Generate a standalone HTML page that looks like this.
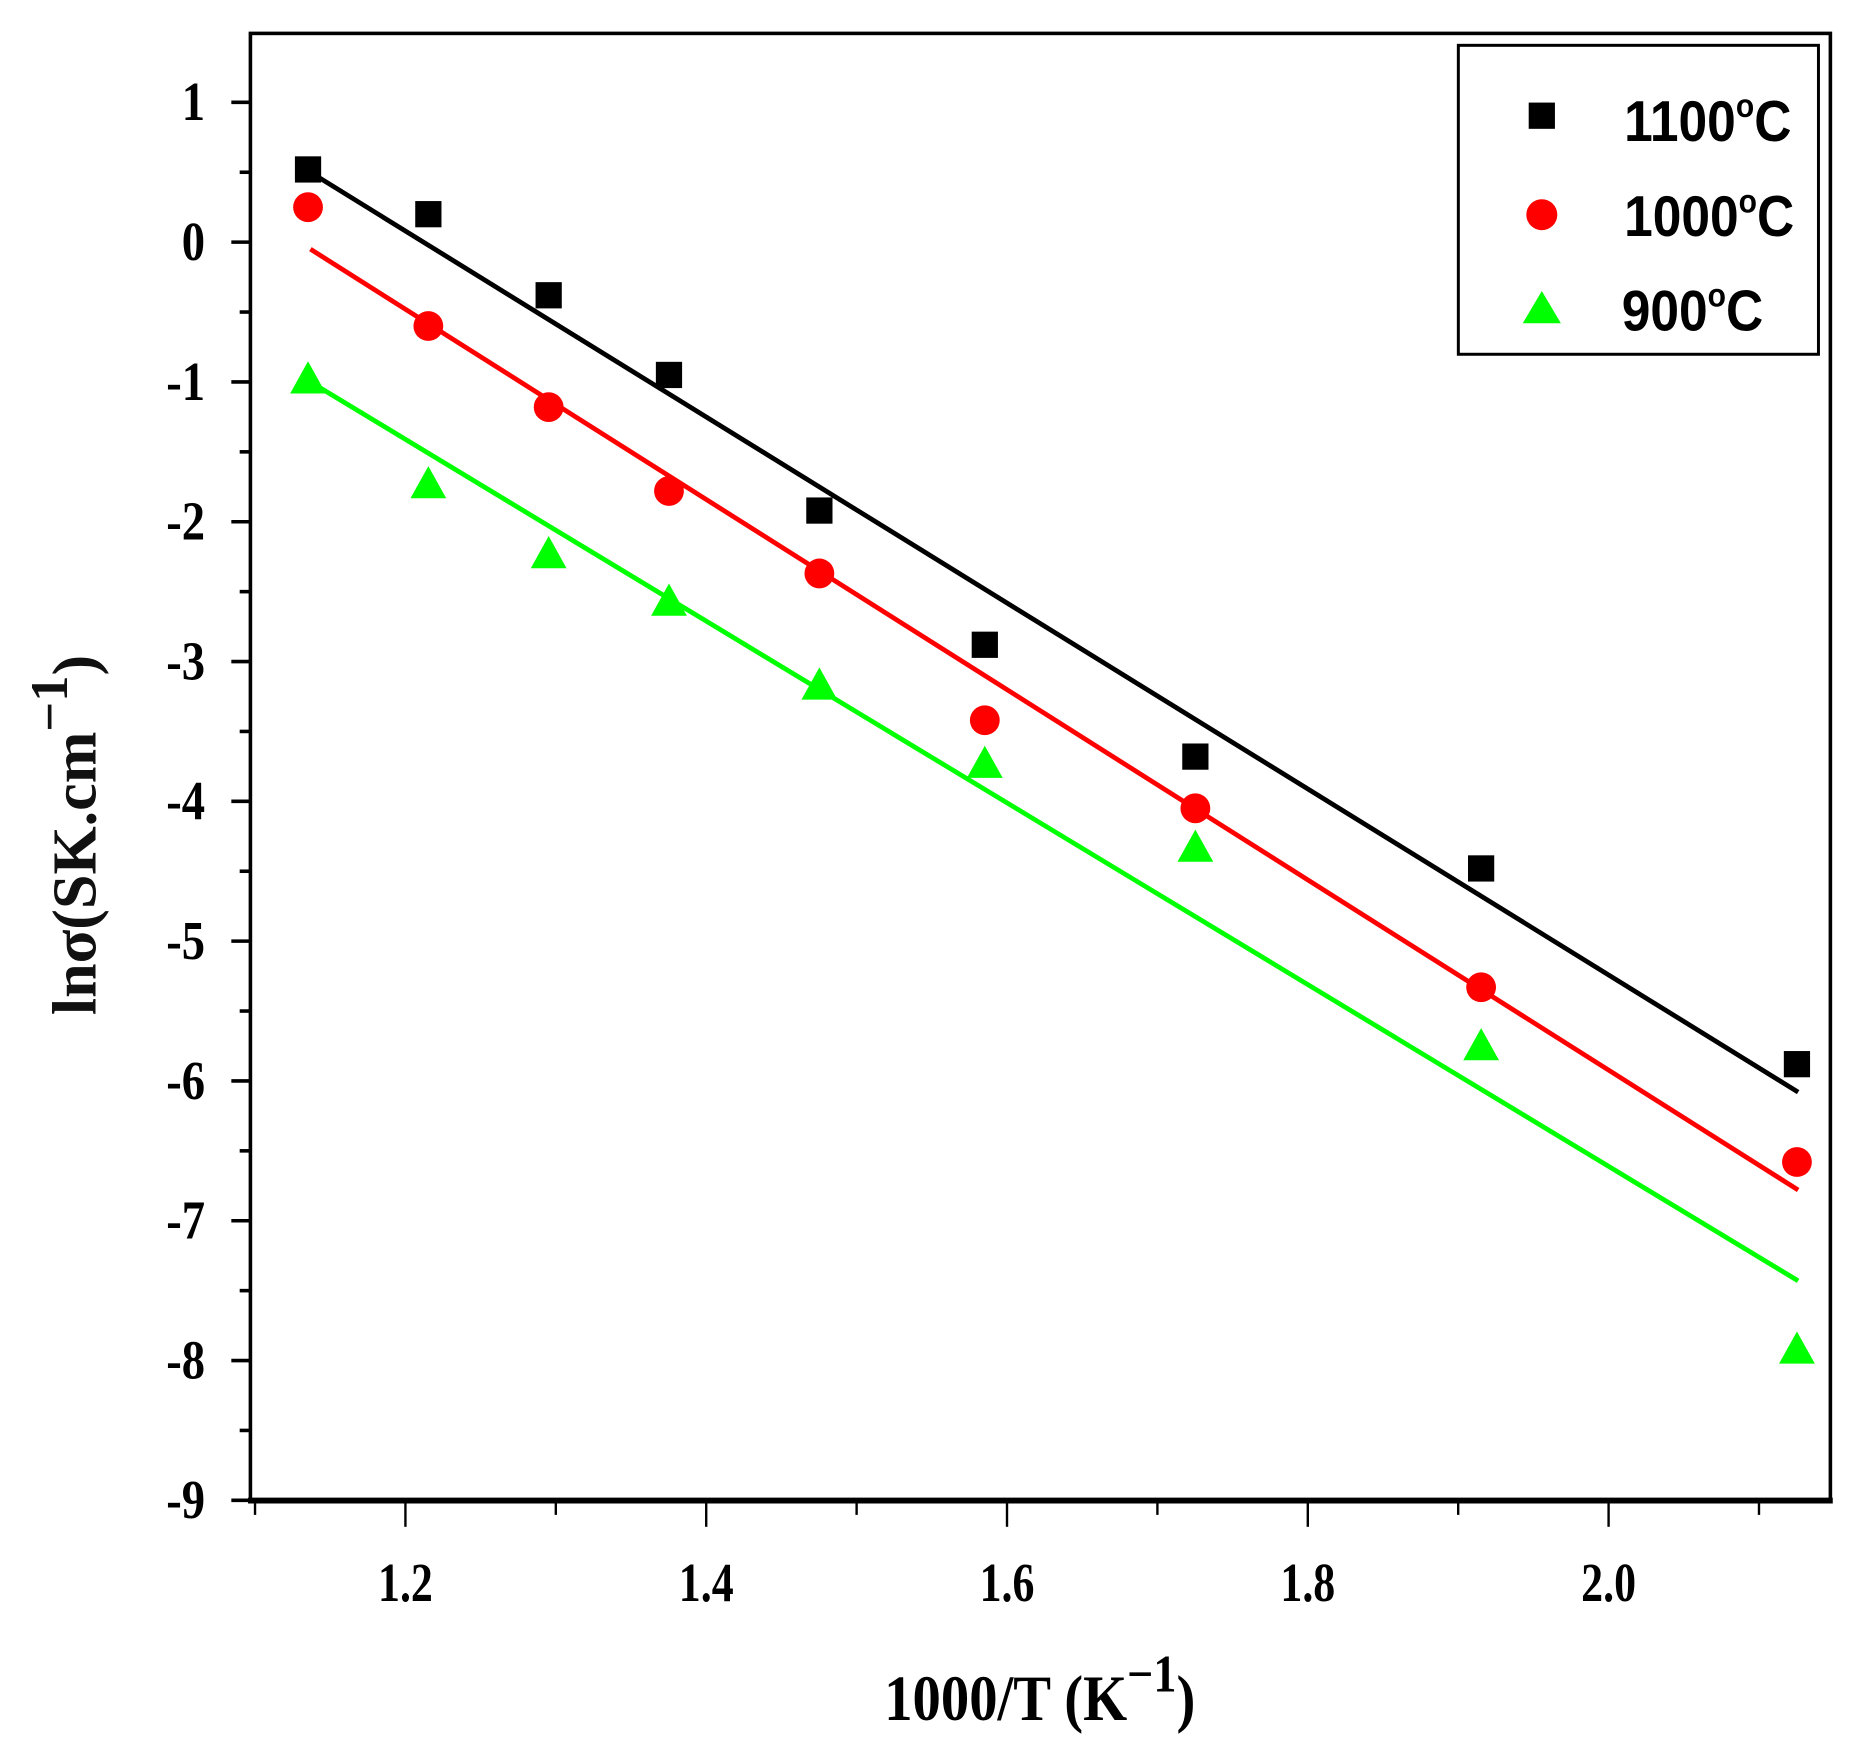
<!DOCTYPE html>
<html><head><meta charset="utf-8"><style>html,body{margin:0;padding:0;background:#fff}svg{display:block}</style></head>
<body>
<svg id="s" width="1859" height="1763" viewBox="0 0 1559 1478" preserveAspectRatio="none" xmlns="http://www.w3.org/2000/svg">
<rect width="1559" height="1478" fill="#fff"/>
<g id="g"></g>
<rect x="210" y="28" width="1325" height="1230" fill="none" stroke="#000" stroke-width="3"/>
<line x1="208" y1="1258" x2="1537" y2="1258" stroke="#000" stroke-width="5"/>
<g font-family="Liberation Serif, serif" font-weight="bold" font-size="46" fill="#000" id="lab"></g>
<text transform="translate(872,1442) scale(0.88,1)" text-anchor="middle" font-family="Liberation Serif, serif" font-weight="bold" font-size="54">1000/T (K<tspan dy="-24" font-size="44">−1</tspan><tspan dy="24">)</tspan></text>
<text transform="translate(80,700) rotate(-90)" text-anchor="middle" font-family="Liberation Serif, serif" font-weight="bold" font-size="52" fill="#111">lnσ(SK.cm<tspan dy="-24" font-size="44">−1</tspan><tspan dy="24">)</tspan></text>
<rect x="1223" y="38" width="302" height="259" fill="#fff" stroke="#000" stroke-width="2.5"/>
<rect x="1282" y="86" width="22" height="22" fill="#000"/>
<circle cx="1293" cy="180" r="13" fill="#f00"/>
<polygon points="1293,244 1277,271 1309,271" fill="#0f0"/>
<g font-family="Liberation Sans, sans-serif" font-weight="bold" font-size="48" fill="#000">
<text transform="translate(1362,118) scale(0.9,1)">1100<tspan dy="-20" font-size="28">o</tspan><tspan dy="20">C</tspan></text>
<text transform="translate(1362,198) scale(0.9,1)">1000<tspan dy="-20" font-size="28">o</tspan><tspan dy="20">C</tspan></text>
<text transform="translate(1360,277) scale(0.9,1)">900<tspan dy="-20" font-size="28">o</tspan><tspan dy="20">C</tspan></text>
</g>
</svg>
<script>
var NS="http://www.w3.org/2000/svg";
function X(v){return 340+(v-1.2)*1261.25}
function Y(v){return 203-v*117.2}
function el(t,a,p){var e=document.createElementNS(NS,t);for(var k in a)e.setAttribute(k,a[k]);(p||document.getElementById('g')).appendChild(e);return e}
var lab=document.getElementById('lab');
for(var i=-9;i<=1;i++){el('line',{x1:194,x2:210,y1:Y(i),y2:Y(i),stroke:'#000','stroke-width':3});
 var t=el('text',{transform:'translate(172,'+(Y(i)+15)+') scale(0.85,1)','text-anchor':'end'},lab);t.textContent=i;
 if(i<1){el('line',{x1:201,x2:210,y1:Y(i+0.5),y2:Y(i+0.5),stroke:'#000','stroke-width':3});}}
for(var k=0;k<=10;k++){var v=1.1+k*0.1,x=X(v),maj=(k%2==1);
 el('line',{x1:x,x2:x,y1:1258,y2:maj?1280:1270,stroke:'#000','stroke-width':2});
 if(maj&&v<2.05){var t=el('text',{transform:'translate('+x+',1342) scale(0.8,1)','text-anchor':'middle'},lab);t.textContent=v.toFixed(1);}}
var xs=[1.14,1.22,1.30,1.38,1.48,1.59,1.73,1.92,2.13];
var B=[0.52,0.2,-0.38,-0.95,-1.92,-2.88,-3.68,-4.48,-5.88];
var R=[0.25,-0.6,-1.18,-1.78,-2.37,-3.42,-4.05,-5.33,-6.58];
var G=[-0.98,-1.73,-2.23,-2.57,-3.17,-3.73,-4.33,-5.75,-7.92];
el('line',{x1:X(1.14)-4,y1:Y(0.5),x2:X(2.13)-5,y2:Y(-6.08),stroke:'#000','stroke-width':4});
el('line',{x1:X(1.14)-4,y1:Y(-0.05),x2:X(2.13)-5,y2:Y(-6.78),stroke:'#f00','stroke-width':4});
el('line',{x1:X(1.14)-4,y1:Y(-1.0),x2:X(2.13)-5,y2:Y(-7.43),stroke:'#0f0','stroke-width':4});
xs.forEach(function(v,i){var x=X(v)-6;
 el('rect',{x:x-11,y:Y(B[i])-11,width:22,height:22,fill:'#000'});
 el('circle',{cx:x,cy:Y(R[i]),r:12.5,fill:'#f00'});
 var y=Y(G[i]);el('polygon',{points:(x)+','+(y-15)+' '+(x-15)+','+(y+12)+' '+(x+15)+','+(y+12),fill:'#0f0'});});
</script>
</body></html>
